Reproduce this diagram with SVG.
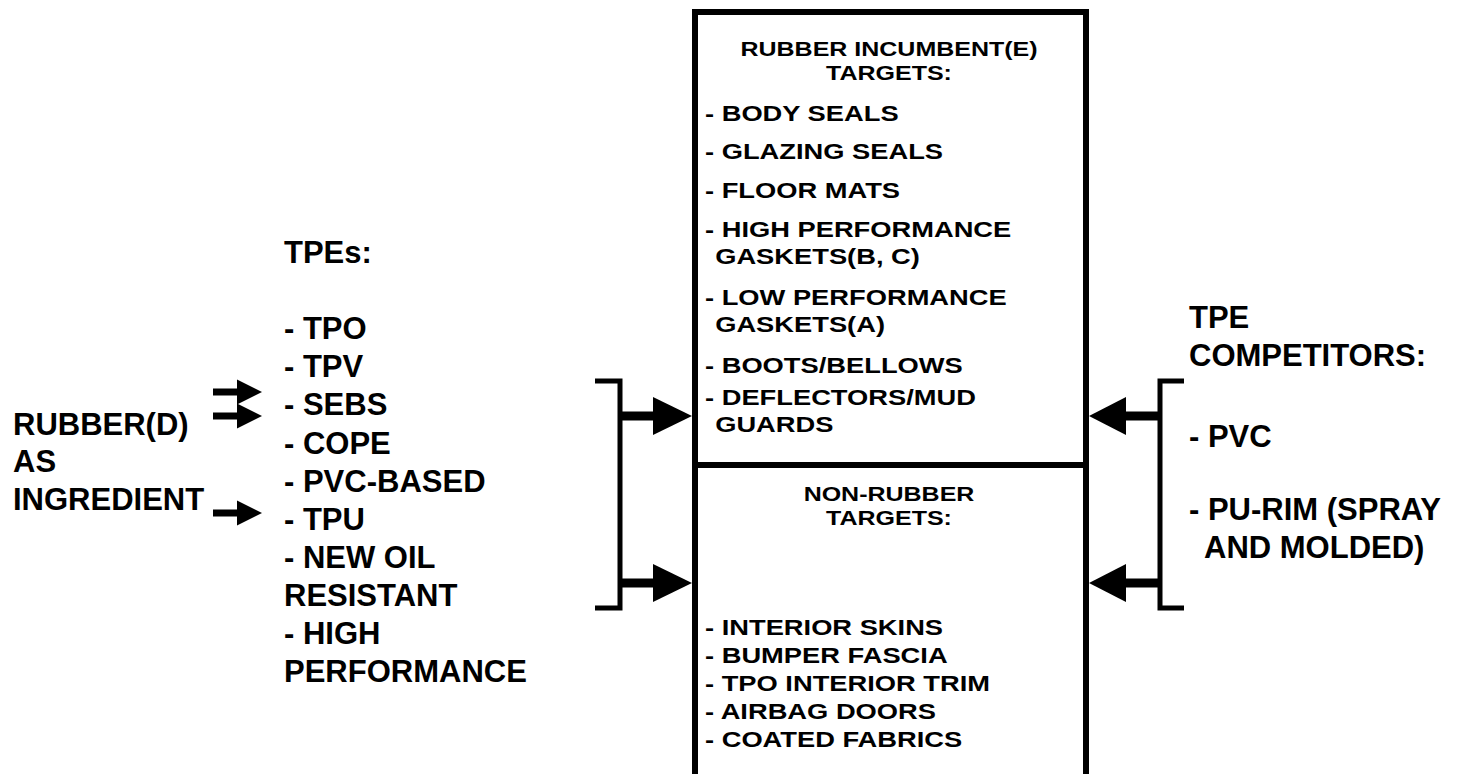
<svg xmlns="http://www.w3.org/2000/svg" width="1458" height="774" viewBox="0 0 1458 774">
<style>
  text { font-family: "Liberation Sans", Arial, sans-serif; font-weight: bold; fill: #000; }
  .big { font-size: 31px; }
  .box { font-size: 21.5px; }
  .ttl { font-size: 20px; text-anchor: middle; }
  .ln { stroke: #000; fill: none; }
  .head { fill: #000; }
</style>
<rect width="1458" height="774" fill="#fff"/>

<g id="center-box">
  <path class="ln" stroke-width="6" d="M695,774 V12 H1086 V774"/>
  <path class="ln" stroke-width="6" d="M695,465 H1086"/>
</g>

<g id="rubber-targets">
  <g transform="translate(889,0) scale(1.25,1)">
    <text class="ttl" x="0" y="56">RUBBER INCUMBENT(E)</text>
    <text class="ttl" x="0" y="80">TARGETS:</text>
  </g>
  <g transform="translate(705,0) scale(1.27,1)">
    <text class="box" x="0" y="121">- BODY SEALS</text>
    <text class="box" x="0" y="159">- GLAZING SEALS</text>
    <text class="box" x="0" y="198">- FLOOR MATS</text>
    <text class="box" x="0" y="237">- HIGH PERFORMANCE</text>
    <text class="box" x="8" y="264">GASKETS(B, C)</text>
    <text class="box" x="0" y="305">- LOW PERFORMANCE</text>
    <text class="box" x="8" y="332">GASKETS(A)</text>
    <text class="box" x="0" y="373">- BOOTS/BELLOWS</text>
    <text class="box" x="0" y="405">- DEFLECTORS/MUD</text>
    <text class="box" x="8" y="432">GUARDS</text>
  </g>
</g>

<g id="non-rubber-targets">
  <g transform="translate(889,0) scale(1.25,1)">
    <text class="ttl" x="0" y="501">NON-RUBBER</text>
    <text class="ttl" x="0" y="525">TARGETS:</text>
  </g>
  <g transform="translate(705,0) scale(1.27,1)">
    <text class="box" x="0" y="635">- INTERIOR SKINS</text>
    <text class="box" x="0" y="663">- BUMPER FASCIA</text>
    <text class="box" x="0" y="691">- TPO INTERIOR TRIM</text>
    <text class="box" x="0" y="719">- AIRBAG DOORS</text>
    <text class="box" x="0" y="747">- COATED FABRICS</text>
  </g>
</g>

<g id="rubber-ingredient">
  <text class="big" x="13" y="435">RUBBER(D)</text>
  <text class="big" x="13" y="472">AS</text>
  <text class="big" x="13" y="510">INGREDIENT</text>
</g>

<g id="tpes">
  <text class="big" x="284" y="263">TPEs:</text>
  <text class="big" x="284" y="339">- TPO</text>
  <text class="big" x="284" y="377">- TPV</text>
  <text class="big" x="284" y="415">- SEBS</text>
  <text class="big" x="284" y="454">- COPE</text>
  <text class="big" x="284" y="492">- PVC-BASED</text>
  <text class="big" x="284" y="530">- TPU</text>
  <text class="big" x="284" y="568">- NEW OIL</text>
  <text class="big" x="284" y="606">RESISTANT</text>
  <text class="big" x="284" y="644">- HIGH</text>
  <text class="big" x="284" y="682">PERFORMANCE</text>
</g>

<g id="tpe-competitors">
  <text class="big" x="1189" y="328">TPE</text>
  <text class="big" x="1189" y="366">COMPETITORS:</text>
  <text class="big" x="1189" y="447">- PVC</text>
  <text class="big" x="1189" y="520">- PU-RIM (SPRAY</text>
  <text class="big" x="1204" y="558">AND MOLDED)</text>
</g>

<g id="connectors">
  <path class="ln" stroke-width="7" d="M213,392 H239 M213,416 H239 M213,513 H239"/>
  <polygon class="head" points="237,379.5 262,392 237,404.5"/>
  <polygon class="head" points="237,403.5 262,416 237,428.5"/>
  <polygon class="head" points="237,500.5 262,513 237,525.5"/>

  <path class="ln" stroke-width="5" d="M595,381 H620 V608 H595"/>
  <path class="ln" stroke-width="9" d="M620,416 H656 M620,583 H656"/>
  <polygon class="head" points="653,397 692,416 653,435"/>
  <polygon class="head" points="653,564 692,583 653,602"/>

  <path class="ln" stroke-width="5" d="M1184,381 H1160 V608 H1184"/>
  <path class="ln" stroke-width="9" d="M1160,416 H1124 M1160,583 H1124"/>
  <polygon class="head" points="1126,397 1089,416 1126,435"/>
  <polygon class="head" points="1126,564 1089,583 1126,602"/>
</g>
</svg>
